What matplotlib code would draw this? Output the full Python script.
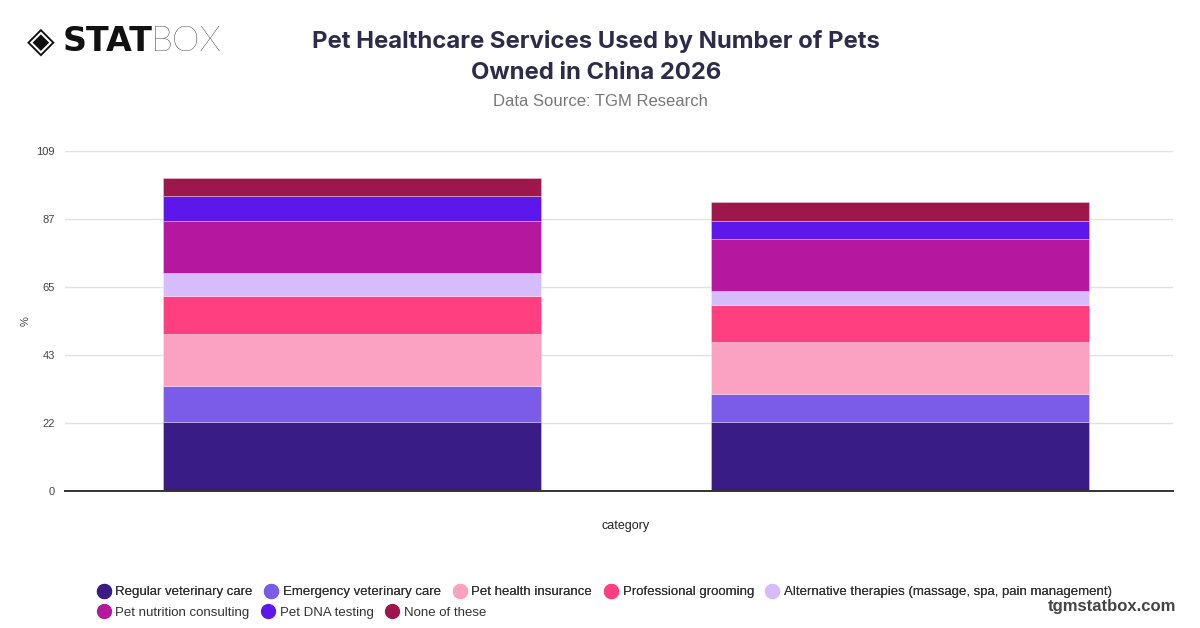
import numpy as np
import matplotlib.pyplot as plt
from matplotlib.lines import Line2D

# Data
categories = ["One pet", "Multiple pets"]
series_names = [
    "Regular veterinary care",
    "Emergency veterinary care",
    "Pet health insurance",
    "Professional grooming",
    "Alternative therapies (massage, spa, pain management)",
    "Pet nutrition consulting",
    "Pet DNA testing",
    "None of these",
]
regular_vet = [22.2, 22.2]
emergency_vet = [11.4, 8.8]
health_insurance = [16.6, 16.7]
grooming = [12.2, 12.0]
alt_therapies = [7.4, 4.4]
nutrition = [16.6, 16.6]
dna_testing = [8.2, 5.7]
none_of_these = [5.7, 6.2]

y_max = 109
y_tick_labels = ["0", "22", "43", "65", "87", "109"]

colors = ["#391C86", "#7B5CE8", "#FBA1C2", "#FF3F80",
          "#D6BCFA", "#B5179E", "#5E17EB", "#9D174D"]

series = [regular_vet, emergency_vet, health_insurance, grooming,
          alt_therapies, nutrition, dna_testing, none_of_these]

plt.rcParams['font.family'] = ['Liberation Sans', 'DejaVu Sans']

fig = plt.figure(figsize=(12, 6.28), dpi=100)
ax = fig.add_axes([0.054, 0.2182, 0.9235, 0.5414])

x = np.arange(len(categories))
bottom = np.zeros(len(categories))
for vals, col, name in zip(series, colors, series_names):
    ax.bar(x, vals, bottom=bottom, width=0.69, color=col, label=name,
           edgecolor=(1, 1, 1, 0.35), linewidth=0.6, zorder=3)
    bottom += np.array(vals)

ax.set_xlim(-0.524, 1.498)
ax.set_ylim(0, y_max)
ax.set_yticks(np.linspace(0, y_max, len(y_tick_labels)))
ax.set_yticklabels(y_tick_labels)
ax.set_xticks([])
ax.tick_params(axis='y', length=0, labelsize=8, labelcolor='#444444', pad=7)
ax.grid(axis='y', color='#e2e2e2', linewidth=1, zorder=0)
for s in ['top', 'right', 'left']:
    ax.spines[s].set_visible(False)
ax.spines['bottom'].set_color('#333333')
ax.spines['bottom'].set_linewidth(1.4)
ax.spines['bottom'].set_zorder(4)

ax.set_ylabel('%', fontsize=8, color='#444444')
ax.yaxis.set_label_coords(-0.031, 0.5)
ax.set_xlabel('category', fontsize=9, color='#222222')
ax.xaxis.set_label_coords(0.506, -0.086)

# Titles
fig.text(0.497, 0.909, "Pet Healthcare Services Used by Number of Pets\nOwned in China 2026",
         ha='center', va='center', fontsize=17.2, fontweight='bold',
         color='#2E2A4A', family=['Inter', 'DejaVu Sans'], linespacing=1.5)
fig.text(0.5, 0.839, "Data Source: TGM Research", ha='center', va='center',
         fontsize=12, color='#777777')

# Logo
fig.text(0.022, 0.934, "\u25C8", ha='left', va='center', fontsize=26,
         color='#111111', family='DejaVu Sans')
fig.text(0.052, 0.934, "STAT", ha='left', va='center', fontsize=24,
         fontweight='heavy', color='#111111', family='DejaVu Sans')
fig.text(0.126, 0.934, "BOX", ha='left', va='center', fontsize=25.5,
         fontweight='light', color='#111111', family=['Lato', 'DejaVu Sans'])

# Legend, two rows laid out as a flow
handles = [Line2D([], [], marker='o', linestyle='', markersize=10,
                  markerfacecolor=c, markeredgecolor=c) for c in colors]
row1 = fig.legend(handles[:5], series_names[:5], loc='center left',
                  bbox_to_anchor=(0.072, 0.057), ncol=5, frameon=False,
                  fontsize=9.5, handlelength=0.8, handletextpad=0.5,
                  columnspacing=1.0, labelcolor='#333333')
fig.add_artist(row1)
fig.legend(handles[5:], series_names[5:], loc='center left',
           bbox_to_anchor=(0.072, 0.024), ncol=3, frameon=False,
           fontsize=9.5, handlelength=0.8, handletextpad=0.5,
           columnspacing=1.0, labelcolor='#333333')

fig.text(0.98, 0.035, "tgmstatbox.com", ha='right', va='center', fontsize=12,
         fontweight='bold', color='#444444')

fig.savefig('out.png', dpi=100)
